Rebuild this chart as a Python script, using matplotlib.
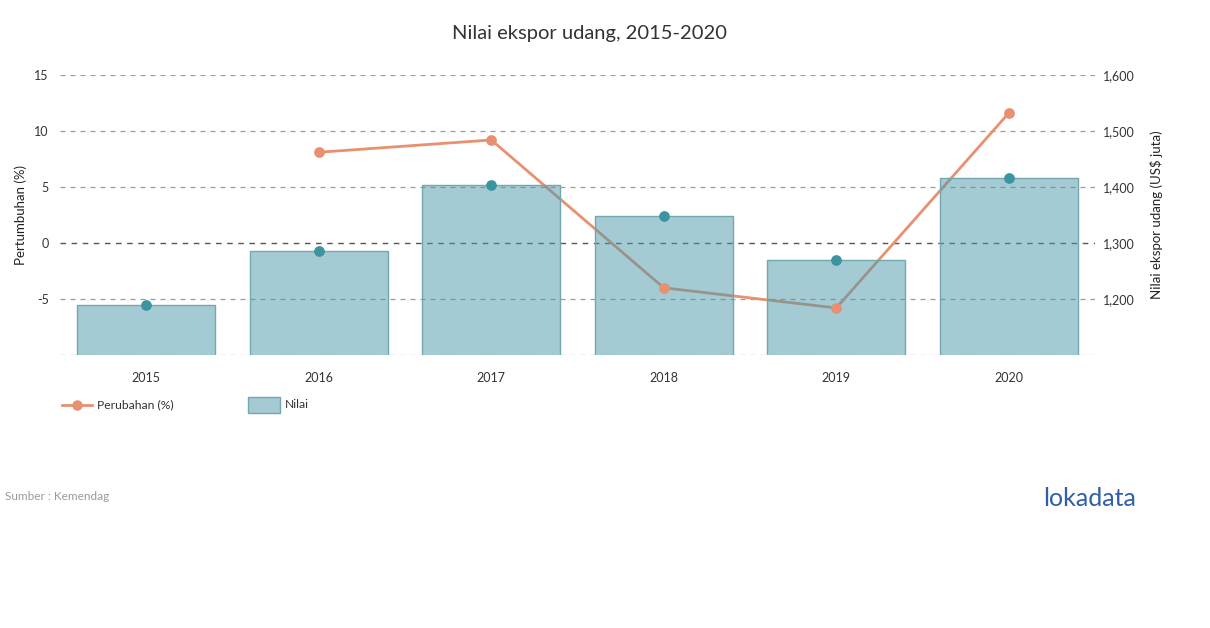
import matplotlib
matplotlib.use("Agg")
import matplotlib.pyplot as plt
from matplotlib.lines import Line2D
from matplotlib.patches import Rectangle

plt.rcParams['font.family'] = ['Lato', 'DejaVu Sans']

years = ['2015', '2016', '2017', '2018', '2019', '2020']
nilai = [1190, 1286, 1404, 1348, 1270, 1416]
perubahan = [None, 8.1, 9.2, -4.0, -5.8, 11.6]
left_ticks = [-5, 0, 5, 10, 15]
right_ticks = [1200, 1300, 1400, 1500, 1600]

W, H = 1210, 628
fig = plt.figure(figsize=(W / 100, H / 100), dpi=100)
ax = fig.add_axes([60 / W, 1 - 355 / H, (1095 - 60) / W, (355 - 75) / H])
ax2 = ax.twinx()

x = list(range(len(years)))
orange = '#E8906F'
bar_face = (0.29, 0.60, 0.66, 0.5)
bar_edge = '#72A7AE'
teal = '#3A95A0'

# grid
for v in [-10, -5, 5, 10, 15]:
    ax.axhline(v, color='#9a9a9a', lw=0.9, ls=(0, (4, 4)), zorder=0)
ax.axhline(0, color='#555555', lw=1.0, ls=(0, (4, 4)), zorder=0)

lx = [i for i, v in zip(x, perubahan) if v is not None]
ly = [v for v in perubahan if v is not None]
ax.plot(lx, ly, color=orange, lw=2, zorder=2)
ax.set_ylim(-10, 15)
ax.set_xlim(-0.5, len(years) - 0.5)
ax.set_yticks(left_ticks)
ax.set_yticklabels([str(t) for t in left_ticks])
ax.set_xticks(x)
ax.set_xticklabels(years)

ax2.bar(x, nilai, width=0.8, bottom=0, facecolor=bar_face,
        edgecolor=bar_edge, linewidth=1.0, zorder=2)
ax2.scatter(x, nilai, s=45, color=teal, zorder=4)
ax2.scatter(lx, ly, s=45, color=orange, zorder=5, transform=ax.transData, clip_on=False)
ax2.set_ylim(1100, 1600)
ax2.set_yticks(right_ticks)
ax2.set_yticklabels([f'{t:,}' for t in right_ticks])

for a in (ax, ax2):
    for s in a.spines.values():
        s.set_visible(False)
    a.tick_params(length=0, labelsize=9, colors='#333333')
ax.tick_params(axis='y', pad=8)
ax.tick_params(axis='x', pad=12)
ax2.tick_params(axis='y', pad=6)

ax.set_ylabel('Pertumbuhan (%)', fontsize=9.5, color='#222222')
ax.yaxis.set_label_coords((27 - 60) / 1035, 0.5)
ax2.set_ylabel('Nilai ekspor udang (US$ juta)', fontsize=9.5, color='#222222')
ax2.yaxis.set_label_coords((1150 - 60) / 1035, 0.5)

fig.text(590 / W, 1 - 33 / H, 'Nilai ekspor udang, 2015-2020', ha='center', va='center',
         fontsize=14.5, color='#333333')

# legend (drawn manually to match placement)
ly_leg = 1 - 405 / H
fig.add_artist(Line2D([62 / W, 92 / W], [ly_leg, ly_leg], color=orange, lw=2,
                      transform=fig.transFigure))
fig.add_artist(Line2D([77 / W], [ly_leg], color=orange, marker='o', markersize=6.5,
                      transform=fig.transFigure))
fig.text(97 / W, ly_leg, 'Perubahan (%)', ha='left', va='center', fontsize=8.7,
         color='#333333')
fig.add_artist(Rectangle((248 / W, 1 - 413 / H), 32 / W, 16 / H, facecolor=bar_face,
                         edgecolor=bar_edge, lw=1.0, transform=fig.transFigure))
fig.text(285 / W, ly_leg, 'Nilai', ha='left', va='center', fontsize=8.7,
         color='#333333')

fig.text(5 / W, 1 - 497 / H, 'Sumber : Kemendag', ha='left', va='center',
         fontsize=8.5, color='#999999')
fig.text(1090 / W, 1 - 499 / H, 'lokadata', ha='center', va='center',
         fontsize=18, color='#2E5FA8')

fig.savefig('out.png', dpi=100)
